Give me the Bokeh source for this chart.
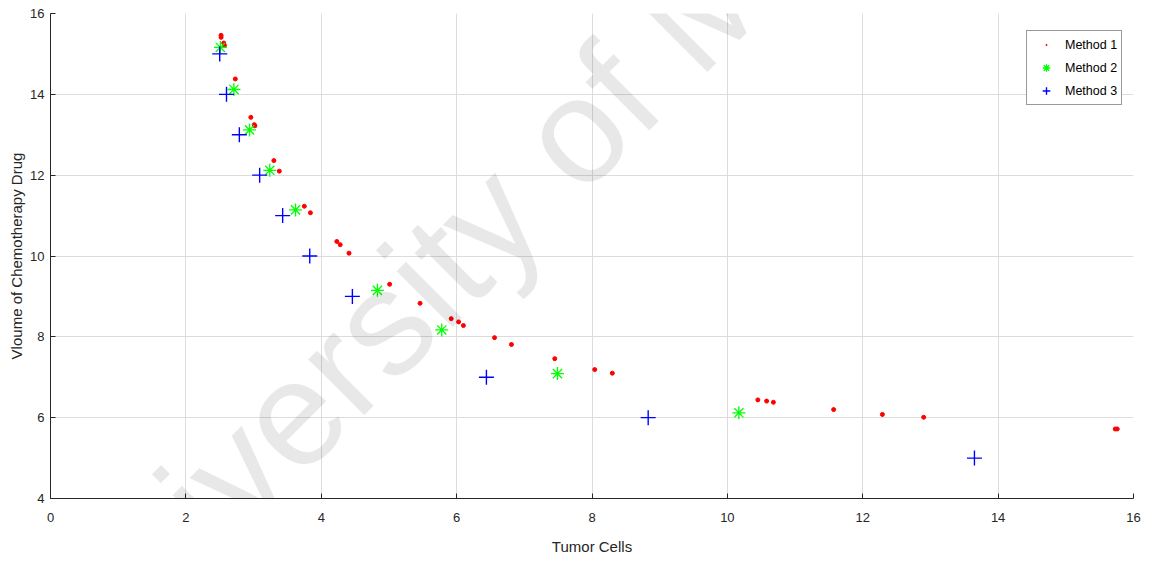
from bokeh.plotting import figure
from bokeh.models import Legend, LegendItem, Label, FixedTicker
from bokeh.embed import file_html
from bokeh.resources import INLINE

# Data
m1_x = [2.52, 2.52, 2.56, 2.57, 2.73, 2.96, 3.01, 3.02, 3.30, 3.38, 3.75, 3.84,
        4.23, 4.28, 4.41, 5.01, 5.46, 5.92, 6.03, 6.10, 6.56, 6.81, 7.45, 8.04,
        8.30, 10.45, 10.58, 10.68, 11.57, 12.29, 12.90, 15.73, 15.76]
m1_y = [15.46, 15.41, 15.27, 15.21, 14.38, 13.43, 13.25, 13.22, 12.36, 12.10, 11.23, 11.07,
        10.36, 10.28, 10.07, 9.30, 8.83, 8.45, 8.37, 8.28, 7.98, 7.81, 7.46, 7.19,
        7.10, 6.44, 6.41, 6.38, 6.20, 6.08, 6.01, 5.72, 5.72]
m2_x = [2.51, 2.71, 2.94, 3.24, 3.62, 4.83, 5.78, 7.49, 10.17]
m2_y = [15.16, 14.12, 13.12, 12.12, 11.14, 9.15, 8.17, 7.09, 6.12]
m3_x = [2.50, 2.60, 2.79, 3.09, 3.43, 3.83, 4.46, 6.44, 8.83, 13.65]
m3_y = [15.0, 14.0, 13.0, 12.0, 11.0, 10.0, 9.0, 7.0, 6.0, 5.0]
x_ticks = [0, 2, 4, 6, 8, 10, 12, 14, 16]
y_ticks = [4, 6, 8, 10, 12, 14, 16]
series_names = ["Method 1", "Method 2", "Method 3"]
watermark_text = "University of Malaya"

FONT = "Liberation Sans"
TXT = "#262626"

p = figure(width=1154, height=561, output_backend="svg", toolbar_location=None,
           x_range=(0, 16), y_range=(4, 16),
           min_border_left=50, min_border_right=21, min_border_top=13, min_border_bottom=63)
p.outline_line_color = None
p.background_fill_color = "white"
p.border_fill_color = "white"

# watermark
wm = Label(x=-1.4, y=-158.5, x_units="screen", y_units="screen", text=watermark_text,
           angle=45, angle_units="deg",
           text_font=FONT, text_font_size="150px", text_color="black", text_alpha=0.09,
           text_align="left", text_baseline="alphabetic", level="overlay")
p.add_layout(wm)

r1 = p.scatter(m1_x, m1_y, marker="circle", size=4, fill_color="red", line_color="red")
l1 = p.scatter(m1_x, m1_y, marker="dot", size=5, fill_color="red", line_color="red")
r2 = p.scatter(m2_x, m2_y, marker="asterisk", size=13, line_color="#00ff00", line_width=1.3)
r3 = p.scatter(m3_x, m3_y, marker="cross", size=15, line_color="blue", line_width=1.4)

for ax in (p.xaxis[0], p.yaxis[0]):
    ax.axis_line_color = TXT
    ax.axis_line_width = 1
    ax.major_tick_in = 5
    ax.major_tick_out = 0
    ax.minor_tick_line_color = None
    ax.major_tick_line_color = TXT
    ax.major_label_text_font = FONT
    ax.major_label_text_font_size = "13px"
    ax.major_label_text_color = TXT
    ax.axis_label_text_font = FONT
    ax.axis_label_text_font_size = "15px"
    ax.axis_label_text_font_style = "normal"
    ax.axis_label_text_color = TXT

p.xaxis.ticker = FixedTicker(ticks=x_ticks)
p.yaxis.ticker = FixedTicker(ticks=y_ticks)
p.xaxis.axis_label = "Tumor Cells"
p.yaxis.axis_label = "Vloume of Chemotherapy Drug"
p.xaxis.major_label_standoff = 14
p.yaxis.major_label_standoff = 6
p.xaxis.axis_label_standoff = 13
p.yaxis.axis_label_standoff = 2

p.xgrid.ticker = FixedTicker(ticks=x_ticks)
p.ygrid.ticker = FixedTicker(ticks=y_ticks)
p.grid.grid_line_color = "#dcdcdc"
p.grid.grid_line_width = 1

legend = Legend(items=[LegendItem(label=series_names[0], renderers=[l1]),
                       LegendItem(label=series_names[1], renderers=[r2]),
                       LegendItem(label=series_names[2], renderers=[r3])],
                location=(976, 393))
legend.label_text_font = FONT
legend.label_text_font_size = "12.5px"
legend.label_text_color = "black"
legend.border_line_color = "#333333"
legend.border_line_width = 1
legend.background_fill_color = "white"
legend.background_fill_alpha = 1
legend.label_height = 19
legend.glyph_height = 19
legend.glyph_width = 30
legend.label_standoff = 4
legend.spacing = 4
legend.padding = 4
legend.margin = 0
p.add_layout(legend)

open("out.html", "w").write(file_html(p, INLINE))
